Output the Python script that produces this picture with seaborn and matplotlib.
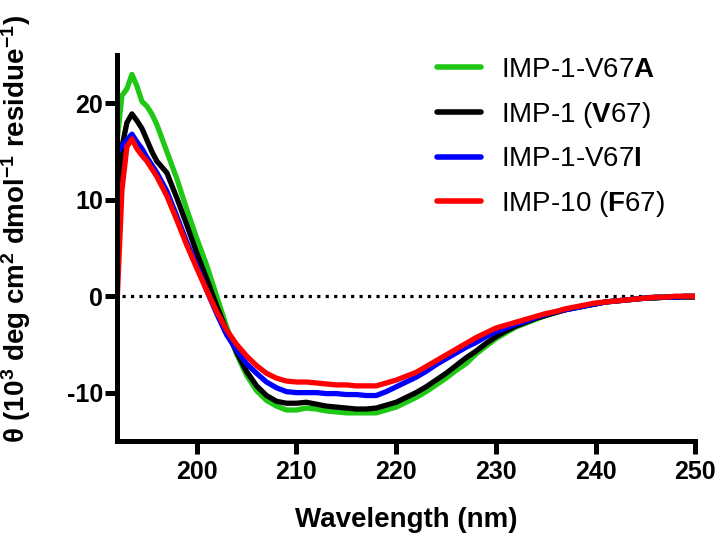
import pandas as pd
import numpy as np
import matplotlib.pyplot as plt
import seaborn as sns

# dados (CD, 10^3 deg cm2 dmol-1 residue-1)
wavelength = [192, 192.5, 193, 193.5, 194, 194.5, 195, 195.5, 196, 197, 198, 199,
              200, 201, 202, 203, 204, 205, 206, 207, 208, 209, 210, 211, 212, 213,
              214, 215, 216, 217, 218, 219, 220, 221, 222, 223, 224, 225, 226, 227,
              228, 229, 230, 231, 232, 233, 234, 235, 236, 237, 238, 239, 240, 241,
              242, 243, 244, 245, 246, 247, 248, 249, 250]

v67a = [16.0, 20.8, 21.5, 23.0, 21.8, 20.2, 19.7, 18.9, 17.8, 15.0, 12.2, 9.0,
        6.0, 3.2, 0.0, -3.2, -6.0, -8.2, -9.8, -10.8, -11.4, -11.8, -11.8, -11.6, -11.7, -11.9,
        -12.0, -12.1, -12.1, -12.1, -12.1, -11.8, -11.5, -11.0, -10.5, -9.9, -9.2, -8.5, -7.7, -7.0,
        -6.0, -5.2, -4.4, -3.8, -3.2, -2.8, -2.4, -2.0, -1.7, -1.4, -1.2, -1.0, -0.8, -0.6,
        -0.5, -0.4, -0.3, -0.2, -0.1, -0.1, -0.1, 0.0, 0.0]

v67 = [5.4, 15.5, 18.0, 18.9, 18.2, 17.4, 16.2, 15.0, 14.0, 12.8, 10.2, 7.4,
       4.5, 1.8, -1.0, -3.6, -5.8, -7.8, -9.3, -10.3, -10.9, -11.1, -11.1, -11.0, -11.2, -11.4,
       -11.5, -11.6, -11.7, -11.7, -11.6, -11.3, -11.0, -10.5, -10.0, -9.4, -8.7, -8.0, -7.2, -6.4,
       -5.7, -4.9, -4.2, -3.6, -3.1, -2.7, -2.3, -2.0, -1.7, -1.4, -1.2, -1.0, -0.8, -0.6,
       -0.5, -0.4, -0.3, -0.2, -0.2, -0.1, -0.1, -0.1, -0.1]

v67i = [14.8, 15.6, 16.2, 16.8, 16.0, 15.3, 14.4, 13.6, 12.8, 10.9, 8.3, 5.6,
        3.2, 0.6, -1.8, -4.0, -5.6, -7.0, -8.0, -8.9, -9.5, -9.9, -10.0, -10.0, -10.0, -10.1,
        -10.1, -10.2, -10.2, -10.3, -10.3, -9.9, -9.4, -8.9, -8.4, -7.8, -7.1, -6.5, -5.9, -5.3,
        -4.8, -4.2, -3.7, -3.3, -2.9, -2.6, -2.2, -1.9, -1.6, -1.4, -1.2, -1.0, -0.8, -0.6,
        -0.5, -0.4, -0.3, -0.2, -0.1, -0.1, -0.1, 0.0, 0.0]

imp10 = [-1.0, 11.0, 15.5, 16.3, 15.3, 14.6, 14.0, 13.2, 12.4, 10.4, 7.9, 5.3,
         2.9, 0.6, -1.6, -3.5, -5.0, -6.2, -7.2, -8.0, -8.5, -8.8, -8.9, -8.9, -9.0, -9.1,
         -9.2, -9.2, -9.3, -9.3, -9.3, -9.0, -8.7, -8.3, -7.9, -7.3, -6.7, -6.1, -5.5, -4.9,
         -4.3, -3.8, -3.3, -3.0, -2.7, -2.4, -2.1, -1.8, -1.6, -1.3, -1.1, -0.9, -0.7, -0.6,
         -0.5, -0.4, -0.3, -0.2, -0.1, -0.1, 0.0, 0.0, 0.0]

nomes = ['IMP-1-V67$\\mathbf{A}$', 'IMP-1 ($\\mathbf{V}$67)',
         'IMP-1-V67$\\mathbf{I}$', 'IMP-10 ($\\mathbf{F}$67)']
cores = ['#1ec814', '#000000', '#0000ff', '#ff0000']

df = pd.DataFrame({'wl': wavelength * 4,
                   'theta': v67a + v67 + v67i + imp10,
                   'proteina': np.repeat(nomes, len(wavelength))})

sns.set_style('ticks')
plt.rcParams['font.family'] = ['Liberation Sans', 'DejaVu Sans']
plt.rcParams['mathtext.fontset'] = 'custom'
plt.rcParams['mathtext.rm'] = 'Liberation Sans'
plt.rcParams['mathtext.bf'] = 'Liberation Sans:bold'
plt.rcParams['mathtext.it'] = 'Liberation Sans:italic'
plt.rcParams['axes.unicode_minus'] = False
plt.rcParams['text.color'] = 'black'
plt.rcParams['axes.labelcolor'] = 'black'
plt.rcParams['xtick.color'] = 'black'
plt.rcParams['ytick.color'] = 'black'
plt.rcParams['axes.edgecolor'] = 'black'

fig = plt.figure(figsize=(7.22, 5.35), dpi=100)
ax = fig.add_axes([0.162, 0.176, 0.801, 0.721])

ax.plot([192.5, 250], [0, 0], color='black', ls=':', lw=2.3, zorder=1)
sns.lineplot(data=df, x='wl', y='theta', hue='proteina', hue_order=nomes,
             palette=cores, lw=3.8, ax=ax, zorder=2)

ax.set_xlim(192, 250)
ax.set_ylim(-15, 25)
ax.set_xticks([200, 210, 220, 230, 240, 250])
ax.set_yticks([-10, 0, 10, 20])
sns.despine(ax=ax)
for s in ['left', 'bottom']:
    ax.spines[s].set_linewidth(3.6)
ax.tick_params(width=3.6, length=9, labelsize=18)
ax.tick_params(axis='y', pad=1)
ax.tick_params(axis='x', pad=5)
for lab in ax.get_xticklabels() + ax.get_yticklabels():
    lab.set_fontweight('bold')

ax.set_xlabel('Wavelength (nm)', fontsize=20, fontweight='bold', labelpad=16)
ax.set_ylabel('θ (10$^\\mathbf{3}$ deg cm$^\\mathbf{2}$ dmol$^\\mathbf{-1}$ residue$^\\mathbf{-1}$)',
              fontsize=20, fontweight='bold')
ax.yaxis.set_label_coords(-0.145, 0.55)

leg = ax.legend(loc='upper left', bbox_to_anchor=(0.51, 1.06), frameon=False,
                fontsize=20, handlelength=1.6, handletextpad=0.7, labelspacing=0.6)
for h in leg.get_lines():
    h.set_linewidth(4)

plt.savefig('out.png', dpi=100)
